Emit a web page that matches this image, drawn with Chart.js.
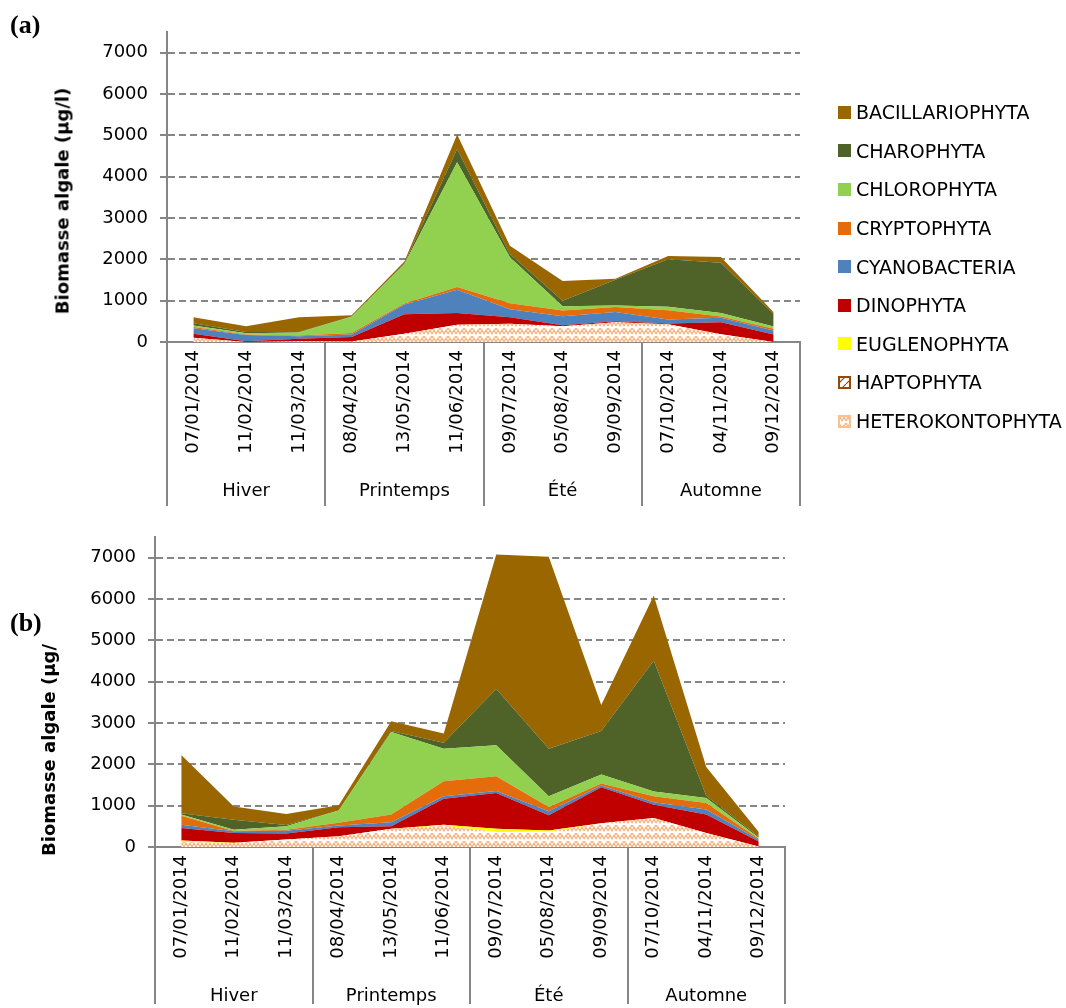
<!DOCTYPE html>
<html>
<head>
<meta charset="utf-8">
<script src="https://cdn.jsdelivr.net/npm/chart.js@4.4.0/dist/chart.umd.min.js"></script>
<style>
body { margin: 0; background: #fff; width: 1066px; height: 1008px; position: relative; overflow: hidden; font-family: "DejaVu Sans", sans-serif; }
#wrapA { position: absolute; left: 0; top: 0; width: 812px; height: 510px; }
#wrapB { position: absolute; left: 0; top: 505px; width: 797px; height: 503px; }
.panel { position: absolute; font: bold 26px "Liberation Serif", serif; color: #000; }
.ytitle { position: absolute; font: bold 18px "DejaVu Sans", sans-serif; white-space: nowrap; transform: translate(-50%, -50%) rotate(-90deg); }
#legend { position: absolute; left: 838px; top: 93px; }
.item { height: 38.6px; display: flex; align-items: center; font-size: 19px; color: #000; }
.item canvas { margin-right: 5px; }
</style>
</head>
<body>
<div id="wrapA"><canvas id="chartA"></canvas></div>
<div id="wrapB"><canvas id="chartB"></canvas></div>
<div class="panel" style="left:10px; top:10px;">(a)</div>
<div class="panel" style="left:10px; top:608px;">(b)</div>
<div class="ytitle" style="left:62px; top:201px;">Biomasse algale (µg/l)</div>
<div class="ytitle" style="left:48px; top:750px;">Biomasse algale (µg/</div>
<div id="legend"></div>
<script>
// dates and seasons (multi-level category axis)
const dates = ['07/01/2014', '11/02/2014', '11/03/2014', '08/04/2014', '13/05/2014', '11/06/2014',
               '09/07/2014', '05/08/2014', '09/09/2014', '07/10/2014', '04/11/2014', '09/12/2014'];
const seasons = ['Hiver', 'Printemps', 'Été', 'Automne'];
const seasonSizes = [3, 3, 3, 3];

// stacking order, bottom -> top
const groups = ['HETEROKONTOPHYTA', 'HAPTOPHYTA', 'EUGLENOPHYTA', 'DINOPHYTA', 'CYANOBACTERIA',
                'CRYPTOPHYTA', 'CHLOROPHYTA', 'CHAROPHYTA', 'BACILLARIOPHYTA'];

// panel (a), µg/l
const aHetero  = [105, 0, 20, 10, 200, 420, 440, 380, 480, 430, 185, 0];
const aHapto   = [0, 0, 0, 0, 0, 0, 0, 0, 0, 0, 0, 0];
const aEugleno = [0, 0, 0, 0, 0, 0, 0, 0, 0, 0, 0, 0];
const aDino    = [95, 20, 60, 110, 470, 280, 160, 25, 25, 15, 290, 180];
const aCyano   = [135, 150, 60, 60, 240, 565, 195, 215, 220, 100, 110, 100];
const aCrypto  = [25, 10, 20, 40, 20, 65, 145, 145, 120, 225, 30, 40];
const aChloro  = [40, 30, 70, 390, 950, 3020, 1110, 100, 40, 80, 85, 55];
const aCharo   = [55, 30, 10, 5, 20, 320, 80, 130, 620, 1150, 1215, 305];
const aBacill  = [145, 140, 360, 30, 50, 350, 200, 480, 25, 80, 140, 40];

// panel (b), µg/l
const bHetero  = [120, 95, 180, 260, 440, 515, 360, 370, 570, 700, 340, 15];
const bHapto   = [0, 0, 0, 0, 0, 0, 0, 0, 0, 0, 0, 0];
const bEugleno = [40, 5, 0, 0, 0, 25, 80, 30, 5, 0, 0, 0];
const bDino    = [300, 240, 145, 220, 60, 630, 865, 370, 870, 320, 445, 120];
const bCyano   = [80, 40, 70, 40, 100, 55, 50, 95, 40, 60, 120, 40];
const bCrypto  = [215, 10, 25, 65, 185, 365, 355, 105, 50, 145, 160, 25];
const bChloro  = [30, 30, 80, 300, 2000, 790, 750, 260, 220, 120, 120, 25];
const bCharo   = [30, 240, 30, 0, 20, 140, 1365, 1150, 1050, 3160, 55, 30];
const bBacill  = [1410, 320, 270, 125, 240, 225, 3250, 4640, 630, 1580, 695, 105];

const yTicks = [0, 1000, 2000, 3000, 4000, 5000, 6000, 7000];

const colors = ['#FAC090', '#984807', '#FFFF00', '#C00000', '#4F81BD', '#E46C0A', '#92D050', '#4F6228', '#996600'];
const GREY = '#868686';

function makePattern(fg, kind) {
    const c = document.createElement('canvas');
    c.width = 8; c.height = 8;
    const g = c.getContext('2d');
    g.fillStyle = '#fff';
    g.fillRect(0, 0, 8, 8);
    g.strokeStyle = fg;
    g.lineWidth = 1.2;
    g.beginPath();
    if (kind === 'zigzag') {
        g.moveTo(0, 6); g.lineTo(2, 2); g.lineTo(4, 6); g.lineTo(6, 2); g.lineTo(8, 6);
        g.moveTo(0, 2); g.lineTo(1, 0); g.moveTo(7, 0); g.lineTo(8, 2);
    } else {
        g.moveTo(0, 8); g.lineTo(8, 0);
    }
    g.stroke();
    return g.createPattern(c, 'repeat');
}

const fills = colors.slice();
fills[0] = makePattern('#F8B078', 'zigzag');
fills[1] = makePattern('#984807', 'diag');

const seasonLines = {
    id: 'seasonLines',
    afterDraw(chart) {
        const x = chart.scales.x;
        const ctx = chart.ctx;
        const area = chart.chartArea;
        let k = 0;
        const breaks = [0];
        seasonSizes.forEach(s => { k += s; breaks.push(k); });
        ctx.save();
        ctx.strokeStyle = GREY;
        ctx.lineWidth = 2;
        breaks.forEach(b => {
            const px = Math.round(x.getPixelForValue(b - 0.5));
            ctx.beginPath();
            ctx.moveTo(px, area.bottom);
            ctx.lineTo(px, chart.height - 4);
            ctx.stroke();
        });
        ctx.restore();
    }
};

function buildChart(id, series, yWidth, xHeight, x2Height) {
    const datasets = series.map((data, i) => ({
        label: groups[i],
        data,
        backgroundColor: fills[i],
        borderWidth: 0,
        pointRadius: 0,
        fill: i === 0 ? 'origin' : '-1',
        tension: 0
    }));

    return new Chart(document.getElementById(id), {
        type: 'line',
        data: { labels: dates, datasets },
        plugins: [seasonLines],
        options: {
            responsive: true,
            maintainAspectRatio: false,
            animation: false,
            layout: { padding: { top: 32, right: 12, left: 0, bottom: 0 } },
            plugins: { legend: { display: false }, tooltip: { enabled: false } },
            scales: {
                x: {
                    offset: true,
                    grid: { display: false, drawTicks: false },
                    border: { color: GREY, width: 2 },
                    ticks: {
                        autoSkip: false, minRotation: 90, maxRotation: 90, padding: 8,
                        color: '#000', font: { family: 'DejaVu Sans', size: 18 }
                    },
                    afterFit: s => { s.height = xHeight; }
                },
                x2: {
                    type: 'category',
                    labels: seasons,
                    position: 'bottom',
                    offset: true,
                    weight: 1,
                    grid: { display: false, drawTicks: false },
                    border: { display: false },
                    ticks: { padding: 21, color: '#000', font: { family: 'DejaVu Sans', size: 18 } },
                    afterFit: s => { s.height = x2Height; }
                },
                y: {
                    stacked: true,
                    min: 0,
                    max: 7500,
                    afterBuildTicks: s => { s.ticks = yTicks.map(v => ({ value: v })); },
                    grid: {
                        color: c => (c.tick && c.tick.value === 0) ? 'rgba(0,0,0,0)' : GREY,
                        lineWidth: 2,
                        tickColor: GREY,
                        tickLength: 7
                    },
                    border: { color: GREY, width: 2, dash: [7, 4] },
                    ticks: {
                        padding: 12, color: '#000', font: { family: 'DejaVu Sans', size: 18 },
                        callback: v => String(v)
                    },
                    afterFit: s => { s.width = yWidth; }
                }
            }
        }
    });
}

buildChart('chartA', [aHetero, aHapto, aEugleno, aDino, aCyano, aCrypto, aChloro, aCharo, aBacill], 167, 118, 50);
buildChart('chartB', [bHetero, bHapto, bEugleno, bDino, bCyano, bCrypto, bChloro, bCharo, bBacill], 155, 118, 43);

// legend, top entry = top of the stack
const legend = document.getElementById('legend');
for (let i = groups.length - 1; i >= 0; i--) {
    const row = document.createElement('div');
    row.className = 'item';
    const sw = document.createElement('canvas');
    sw.width = 13; sw.height = 13;
    const g = sw.getContext('2d');
    g.fillStyle = fills[i];
    g.fillRect(0, 0, 13, 13);
    if (i <= 1) {
        g.strokeStyle = colors[i];
        g.lineWidth = 2;
        g.strokeRect(1, 1, 11, 11);
    }
    row.appendChild(sw);
    row.appendChild(document.createTextNode(groups[i]));
    legend.appendChild(row);
}
</script>
</body>
</html>
